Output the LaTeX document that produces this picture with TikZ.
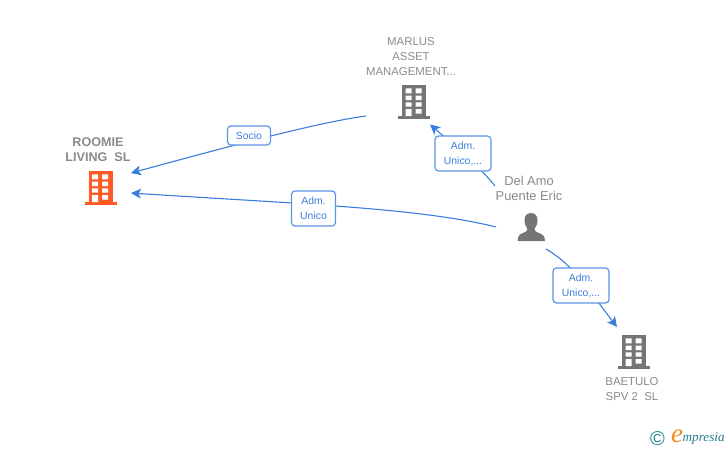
\documentclass[tikz,border=0pt]{standalone}
\usepackage{fontspec}
\setmainfont{Liberation Sans}
\newfontfamily\logofont{Liberation Serif}
\usetikzlibrary{arrows.meta}
\definecolor{edgeblue}{HTML}{3B7DDD}
\definecolor{tagline}{HTML}{5A94E6}
\definecolor{iconfill}{HTML}{757575}
\definecolor{hotfill}{HTML}{FF5A26}
\definecolor{txtgray}{HTML}{8A8A8A}
\definecolor{logoteal}{HTML}{1F7F8C}
\definecolor{logoorange}{HTML}{F08A1D}
\tikzset{
  x=1pt,y=-1pt,
  link/.style={draw=edgeblue,line width=1.1pt,-{Stealth[length=10pt,width=10pt,inset=2.5pt]}},
  tag/.style={draw=tagline,line width=1.2pt,rounded corners=3.5pt,fill=white,text=edgeblue,
    font=\fontsize{10.4}{15}\selectfont,align=center,inner sep=0pt},
  cap1/.style={text=txtgray,font=\fontsize{11.4}{15}\selectfont,align=center,inner sep=0pt},
  cap2/.style={text=txtgray,font=\fontsize{12.9}{15}\selectfont,align=center,inner sep=0pt},
  capbold/.style={text=txtgray,font=\fontsize{12.6}{15}\selectfont\bfseries,align=center,inner sep=0pt},
  iconanchor/.style={inner sep=0pt,minimum width=32pt,minimum height=34pt},
  pics/tower/.style={code={
    \fill[#1] (-12,0) rectangle (12,31);
    \fill[#1] (-16,31) rectangle (16,34);
    \fill[white]
      (-8.3,3.3) rectangle (-2.3,8.3) (1.7,3.3) rectangle (7.7,8.3)
      (-8.3,10.5) rectangle (-2.3,15) (1.7,10.5) rectangle (7.7,15)
      (-8.3,17.3) rectangle (-2.3,21.7) (1.7,17.3) rectangle (7.7,21.7)
      (-8.3,24) rectangle (-2.3,31.2) (1.7,24) rectangle (7.7,28.5);
  }}
}
\begin{document}
\begin{tikzpicture}
\useasboundingbox (0,0) rectangle (728,450);
% icons
\node[iconanchor] (roomie) at (100.5,188) {};
\pic at (100.5,171) {tower=hotfill};
\node[iconanchor] (marlus) at (414,102) {};
\pic at (414,85) {tower=iconfill};
\node[iconanchor] (baetulo) at (634,352) {};
\pic at (634,335) {tower=iconfill};
\node[inner sep=0pt,minimum width=28pt,minimum height=28pt] (eric) at (531,227) {};
\fill[iconfill] (531,213) .. controls (526,213) and (524.5,217) .. (524.5,220)
  .. controls (524.5,224) and (526,227) .. (527.5,229)
  .. controls (527.5,231) and (526,232) .. (523,233)
  .. controls (519,234.5) and (517.8,236) .. (517.7,241)
  -- (545,241)
  .. controls (544.9,236) and (543,234.5) .. (539,233)
  .. controls (536,232) and (534.5,231) .. (534.5,229)
  .. controls (536,227) and (537.5,224) .. (537.5,220)
  .. controls (537.5,217) and (536,213) .. (531,213) -- cycle;
% captions
\node[capbold] (roomiecap) at (98,150) {ROOMIE\\LIVING\ \ SL};
\node[cap1] (marluscap) at (411,56.5) {MARLUS\\ASSET\\MANAGEMENT...};
\node[cap2] (ericcap) at (529,188) {Del Amo\\Puente Eric};
\node[cap1] (baetulocap) at (632,389) {BAETULO\\SPV 2\ \ SL};
% connector end points
\coordinate (a1) at (366,116);
\coordinate (a2) at (131,173);
\coordinate (b1) at (496,227);
\coordinate (b2) at (131,193);
\coordinate (c1) at (495,186);
\coordinate (c2) at (430,124.5);
\coordinate (d1) at (546,249);
\coordinate (d2) at (617,327);
% connectors
\draw[link] (a1) .. controls (320,122) and (230,146) .. (a2);
\draw[link] (b1) .. controls (420,208) and (300,204) .. (b2);
\draw[link] (c1) .. controls (480,167) and (455,146) .. (c2);
\draw[link] (d1) .. controls (575,266) and (590,292) .. (d2);
% tags
\node[tag,minimum width=43pt,minimum height=19pt] (t1) at (249,135.5) {Socio};
\node[tag,minimum width=44pt,minimum height=35pt] (t2) at (313.5,208.5) {Adm.\\Unico};
\node[tag,minimum width=56pt,minimum height=35pt] (t3) at (463,153.5) {Adm.\\Unico,...};
\node[tag,minimum width=56pt,minimum height=35pt] (t4) at (581,285.5) {Adm.\\Unico,...};
% logo
\node[inner sep=0pt,text=logoteal,font=\fontsize{20}{20}\selectfont] (copy) at (657.5,438.5) {©};
\node[inner sep=0pt,text=logoorange,font=\logofont\itshape\fontsize{27}{27}\selectfont] (logoe) at (677,436.5) {e};
\node[inner sep=0pt,anchor=west,text=logoteal,font=\logofont\itshape\fontsize{13.2}{14}\selectfont] (logot) at (682.5,439) {mpresia};
\end{tikzpicture}
\end{document}
